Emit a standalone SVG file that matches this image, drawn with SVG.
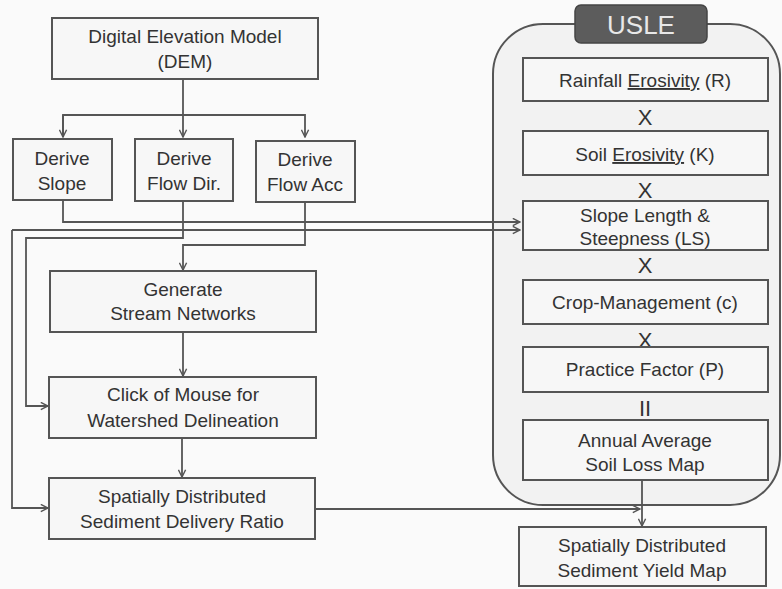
<svg xmlns="http://www.w3.org/2000/svg" width="782" height="589" viewBox="0 0 782 589">
<defs>
<style>
.box{fill:#f7f7f7;stroke:#555;stroke-width:2}
.t{font-family:"Liberation Sans",Arial,sans-serif;font-size:19px;fill:#333;text-anchor:middle}
.c{fill:none;stroke:#555;stroke-width:1.8}
.op{font-family:"Liberation Sans",Arial,sans-serif;font-size:22px;fill:#333;text-anchor:middle}
</style>
<marker id="ah" viewBox="0 0 10 10" refX="9" refY="5" markerWidth="9" markerHeight="9" markerUnits="userSpaceOnUse" orient="auto">
<path d="M1,1 L9,5 L1,9" fill="none" stroke="#555" stroke-width="1.6"/>
</marker>
</defs>
<rect width="782" height="589" fill="#fafafa"/>

<g id="usle">
<rect x="493" y="24" width="287" height="481" rx="50" fill="#f2f2f2" stroke="#555" stroke-width="2"/>
<rect x="575" y="5" width="132" height="38" rx="6" fill="#5c5c5c" stroke="#444" stroke-width="1.5"/>
<text x="641" y="34" font-family="'Liberation Sans',Arial,sans-serif" font-size="26" fill="#e8e8e8" text-anchor="middle">USLE</text>
</g>

<g id="connectors">
<path class="c" d="M183,79 V137" marker-end="url(#ah)"/>
<path class="c" d="M63,137 V115 H305 V137" marker-end="url(#ah)"/>
<path class="c" d="M63,115 V137" marker-end="url(#ah)"/>
<path class="c" d="M63,200 V222 H520" marker-end="url(#ah)"/>
<path class="c" d="M12,230 H520" marker-end="url(#ah)"/>
<path class="c" d="M12,230 V508 H48" marker-end="url(#ah)"/>
<path class="c" d="M183,201 V238 H26 V406 H48" marker-end="url(#ah)"/>
<path class="c" d="M305,202 V245 H183 V270" marker-end="url(#ah)"/>
<path class="c" d="M183,332 V376" marker-end="url(#ah)"/>
<path class="c" d="M182,438 V477" marker-end="url(#ah)"/>
<path class="c" d="M315,509 H640" marker-end="url(#ah)"/>
<path class="c" d="M642,480 V526" marker-end="url(#ah)"/>
</g>

<g id="dem">
<rect class="box" x="52" y="18" width="266" height="61"/>
<text class="t" x="185" y="43">Digital Elevation Model</text>
<text class="t" x="185" y="68">(DEM)</text>
</g>
<g id="slope">
<rect class="box" x="13" y="139" width="99" height="61"/>
<text class="t" x="62" y="165">Derive</text>
<text class="t" x="62" y="190">Slope</text>
</g>
<g id="flowdir">
<rect class="box" x="135" y="139" width="98" height="62"/>
<text class="t" x="184" y="165">Derive</text>
<text class="t" x="184" y="190">Flow Dir.</text>
</g>
<g id="flowacc">
<rect class="box" x="256" y="141" width="99" height="61"/>
<text class="t" x="305" y="166">Derive</text>
<text class="t" x="305" y="191">Flow Acc</text>
</g>
<g id="stream">
<rect class="box" x="50" y="271" width="266" height="61"/>
<text class="t" x="183" y="296">Generate</text>
<text class="t" x="183" y="320">Stream Networks</text>
</g>
<g id="click">
<rect class="box" x="49" y="377" width="267" height="61"/>
<text class="t" x="183" y="401">Click of Mouse for</text>
<text class="t" x="183" y="427">Watershed Delineation</text>
</g>
<g id="sdr">
<rect class="box" x="49" y="478" width="266" height="61"/>
<text class="t" x="182" y="503">Spatially Distributed</text>
<text class="t" x="182" y="528">Sediment Delivery Ratio</text>
</g>

<g id="rainfall">
<rect class="box" x="523" y="58" width="245" height="43"/>
<text class="t" x="645" y="87">Rainfall <tspan text-decoration="underline">Erosivity</tspan> (R)</text>
</g>
<text class="op" x="645" y="125">X</text>
<g id="soil">
<rect class="box" x="523" y="131" width="245" height="44"/>
<text class="t" x="645" y="161">Soil <tspan text-decoration="underline">Erosivity</tspan> (K)</text>
</g>
<text class="op" x="645" y="198">X</text>
<g id="ls">
<rect class="box" x="523" y="201" width="245" height="49"/>
<text class="t" x="645" y="222">Slope Length &amp;</text>
<text class="t" x="645" y="245">Steepness (LS)</text>
</g>
<text class="op" x="645" y="273">X</text>
<g id="crop">
<rect class="box" x="523" y="280" width="245" height="44"/>
<text class="t" x="645" y="309">Crop-Management (c)</text>
</g>
<text class="op" x="645" y="348">X</text>
<g id="practice">
<rect class="box" x="523" y="347" width="245" height="45"/>
<text class="t" x="645" y="376">Practice Factor (P)</text>
</g>
<text class="op" x="645" y="416">II</text>
<g id="annual">
<rect class="box" x="523" y="420" width="245" height="60"/>
<text class="t" x="645" y="447">Annual Average</text>
<text class="t" x="645" y="471">Soil Loss Map</text>
</g>
<g id="yield">
<rect class="box" x="519" y="527" width="247" height="59"/>
<text class="t" x="642" y="552">Spatially Distributed</text>
<text class="t" x="642" y="577">Sediment Yield Map</text>
</g>
</svg>
